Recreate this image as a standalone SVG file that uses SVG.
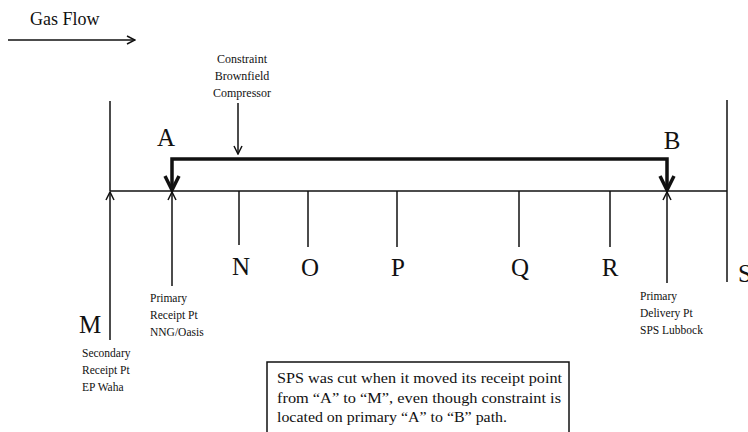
<svg xmlns="http://www.w3.org/2000/svg" width="748" height="432" viewBox="0 0 748 432">
<defs>
<style>
text{font-family:"Liberation Serif","DejaVu Serif",serif;fill:#111}
.big{font-size:25px}
.sm{font-size:11.5px}
.mid{font-size:12px}
.ln{stroke:#111;stroke-width:1.5;fill:none}
.thick{stroke:#111;stroke-width:3.5;fill:none}
</style>
<marker id="open" viewBox="0 0 10 10" refX="9" refY="5" markerWidth="10" markerHeight="10" markerUnits="userSpaceOnUse" orient="auto">
<path d="M1,1 L9,5 L1,9" fill="none" stroke="#111" stroke-width="1.5"/>
</marker>
</defs>
<rect width="748" height="432" fill="#fff"/>
<g id="gasflow">
<text x="30" y="25" font-size="18">Gas Flow</text>
</g>
<g id="connectors">
<line class="ln" x1="8" y1="40" x2="135" y2="40" marker-end="url(#open)"/>
<line class="ln" x1="238" y1="103" x2="238" y2="154" marker-end="url(#open)"/>
<line class="ln" x1="110" y1="191" x2="727" y2="191"/>
<line class="ln" x1="110" y1="101" x2="110" y2="191"/>
<line class="ln" x1="110" y1="340" x2="110" y2="192" marker-end="url(#open)"/>
<line class="ln" x1="172" y1="286" x2="172" y2="192" marker-end="url(#open)"/>
<line class="ln" x1="667" y1="283" x2="667" y2="192" marker-end="url(#open)"/>
<line class="ln" x1="727" y1="100" x2="727" y2="282"/>
<line class="ln" x1="239" y1="191" x2="239" y2="245"/>
<line class="ln" x1="308" y1="191" x2="308" y2="247"/>
<line class="ln" x1="397" y1="191" x2="397" y2="247"/>
<line class="ln" x1="519" y1="191" x2="519" y2="247"/>
<line class="ln" x1="610" y1="191" x2="610" y2="247"/>
<path class="thick" d="M172,190 V159 H667 V190"/>
<path d="M165,176 L172,190 L179,176" fill="none" stroke="#111" stroke-width="3.5"/>
<path d="M660,176 L667,190 L674,176" fill="none" stroke="#111" stroke-width="3.5"/>
</g>
<g id="constraint">
<text class="mid" x="242" y="63" text-anchor="middle">Constraint</text>
<text class="mid" x="242" y="80" text-anchor="middle">Brownfield</text>
<text class="mid" x="242" y="97" text-anchor="middle">Compressor</text>
</g>
<g id="A"><text class="big" x="166" y="146" text-anchor="middle">A</text></g>
<g id="B"><text class="big" x="672" y="149" text-anchor="middle">B</text></g>
<g id="M"><text class="big" x="90" y="333" text-anchor="middle">M</text></g>
<g id="N"><text class="big" x="241" y="275" text-anchor="middle">N</text></g>
<g id="O"><text class="big" x="310" y="276" text-anchor="middle">O</text></g>
<g id="P"><text class="big" x="398" y="276" text-anchor="middle">P</text></g>
<g id="Q"><text class="big" x="520" y="276" text-anchor="middle">Q</text></g>
<g id="R"><text class="big" x="610" y="276" text-anchor="middle">R</text></g>
<g id="S"><text class="big" x="738" y="282">S</text></g>
<g id="primary-receipt">
<text class="sm" x="150" y="302">Primary</text>
<text class="sm" x="150" y="319">Receipt Pt</text>
<text class="sm" x="150" y="336">NNG/Oasis</text>
</g>
<g id="secondary-receipt">
<text class="sm" x="82" y="357">Secondary</text>
<text class="sm" x="82" y="374">Receipt Pt</text>
<text class="sm" x="82" y="391">EP Waha</text>
</g>
<g id="primary-delivery">
<text class="sm" x="640" y="300">Primary</text>
<text class="sm" x="640" y="317">Delivery Pt</text>
<text class="sm" x="640" y="334">SPS Lubbock</text>
</g>
<g id="note">
<rect x="267" y="362" width="302" height="80" fill="#fff" stroke="#111" stroke-width="1.5"/>
<text x="277" y="383" font-size="15" textLength="285" lengthAdjust="spacingAndGlyphs">SPS was cut when it moved its receipt point</text>
<text x="277" y="403" font-size="15" textLength="284" lengthAdjust="spacingAndGlyphs">from “A” to “M”, even though constraint is</text>
<text x="277" y="422" font-size="15" textLength="230" lengthAdjust="spacingAndGlyphs">located on primary “A” to “B” path.</text>
</g>
</svg>
